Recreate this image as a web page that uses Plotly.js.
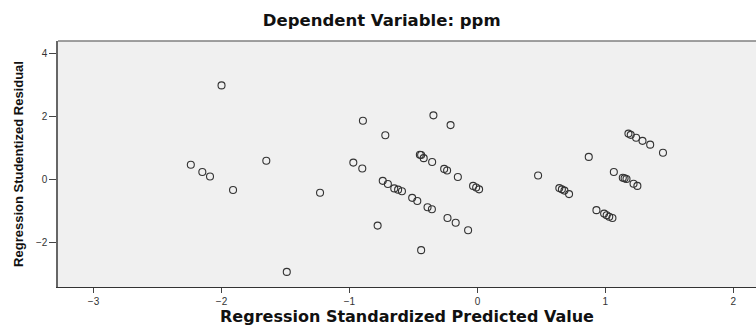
<!DOCTYPE html>
<html>
<head>
<meta charset="utf-8">
<script src="https://cdn.plot.ly/plotly-3.0.1.min.js"></script>
<style>html,body{margin:0;padding:0;background:#fff;}#chart{width:756px;height:326px;}</style>
</head>
<body>
<div id="chart"></div>
<script>
const predicted = [-2.00,-2.24,-2.15,-2.09,-1.91,-1.65,-1.49,-1.23,-0.97,-0.90,-0.895,-0.78,-0.74,-0.72,-0.70,-0.65,-0.62,-0.59,-0.51,-0.47,-0.45,-0.44,-0.44,-0.42,-0.39,-0.356,-0.354,-0.344,-0.26,-0.237,-0.234,-0.21,-0.17,-0.153,-0.073,-0.034,-0.01,0.013,0.474,0.64,0.66,0.68,0.716,0.87,0.93,0.99,1.01,1.03,1.055,1.066,1.136,1.15,1.165,1.18,1.198,1.22,1.24,1.25,1.29,1.35,1.45];
const residual = [2.99,0.47,0.24,0.10,-0.33,0.60,-2.93,-0.42,0.54,0.35,1.87,-1.46,-0.04,1.41,-0.14,-0.28,-0.32,-0.37,-0.58,-0.68,0.79,0.78,-2.24,0.68,-0.88,-0.94,0.56,2.04,0.34,0.29,-1.22,1.73,-1.37,0.08,-1.61,-0.20,-0.25,-0.31,0.13,-0.27,-0.31,-0.35,-0.46,0.72,-0.97,-1.08,-1.13,-1.18,-1.22,0.24,0.06,0.04,0.02,1.46,1.42,-0.13,1.33,-0.20,1.23,1.11,0.85];
const xTicks = [-3,-2,-1,0,1,2];
const yTicks = [-2,0,2,4];
const chartTitle = "Dependent Variable: ppm";
const xTitle = "Regression Standardized Predicted Value";
const yTitle = "Regression Studentized Residual";

const trace = {
  x: predicted, y: residual, type: 'scatter', mode: 'markers',
  marker: {symbol: 'circle-open', size: 7, color: '#333', line: {width: 1.1, color: '#333'}},
  hoverinfo: 'skip', cliponaxis: false
};
const layout = {
  width: 756, height: 326,
  margin: {l: 58, r: 0, t: 41, b: 39},
  paper_bgcolor: '#ffffff', plot_bgcolor: '#f0f0f0',
  showlegend: false,
  title: {text: chartTitle, x: 381.7/756, xanchor: 'center', xref: 'container', y: 1 - 20/326, yanchor: 'middle', yref: 'container',
          font: {family: 'DejaVu Sans', size: 16.5, weight: 'bold', color: '#111'}},
  xaxis: {range: [-3.278, 2.177], tickvals: xTicks, ticks: 'outside', ticklen: 5, tickwidth: 1, tickcolor: '#444',
          showgrid: false, zeroline: false, showline: true, linecolor: '#333', linewidth: 1.3, mirror: false,
          tickfont: {family: 'Liberation Sans', size: 10, color: '#333'},
          title: {text: xTitle, standoff: 7, font: {family: 'DejaVu Sans', size: 16, weight: 'bold', color: '#111'}}},
  yaxis: {range: [-3.41, 4.40], tickvals: yTicks, ticks: 'outside', ticklen: 7, tickwidth: 1, tickcolor: '#444',
          showgrid: false, zeroline: false, showline: true, linecolor: '#666', linewidth: 1.6, mirror: false,
          tickfont: {family: 'Liberation Sans', size: 10, color: '#333'},
          title: {text: yTitle, standoff: 9, font: {family: 'Liberation Sans', size: 13, weight: 'bold', color: '#111'}}},
  shapes: [{type: 'line', xref: 'paper', yref: 'paper', x0: 0, x1: 1, y0: 1, y1: 1, line: {color: '#808080', width: 1.5}}]
};
Plotly.newPlot('chart', [trace], layout, {displayModeBar: false, staticPlot: true});
</script>
</body>
</html>
